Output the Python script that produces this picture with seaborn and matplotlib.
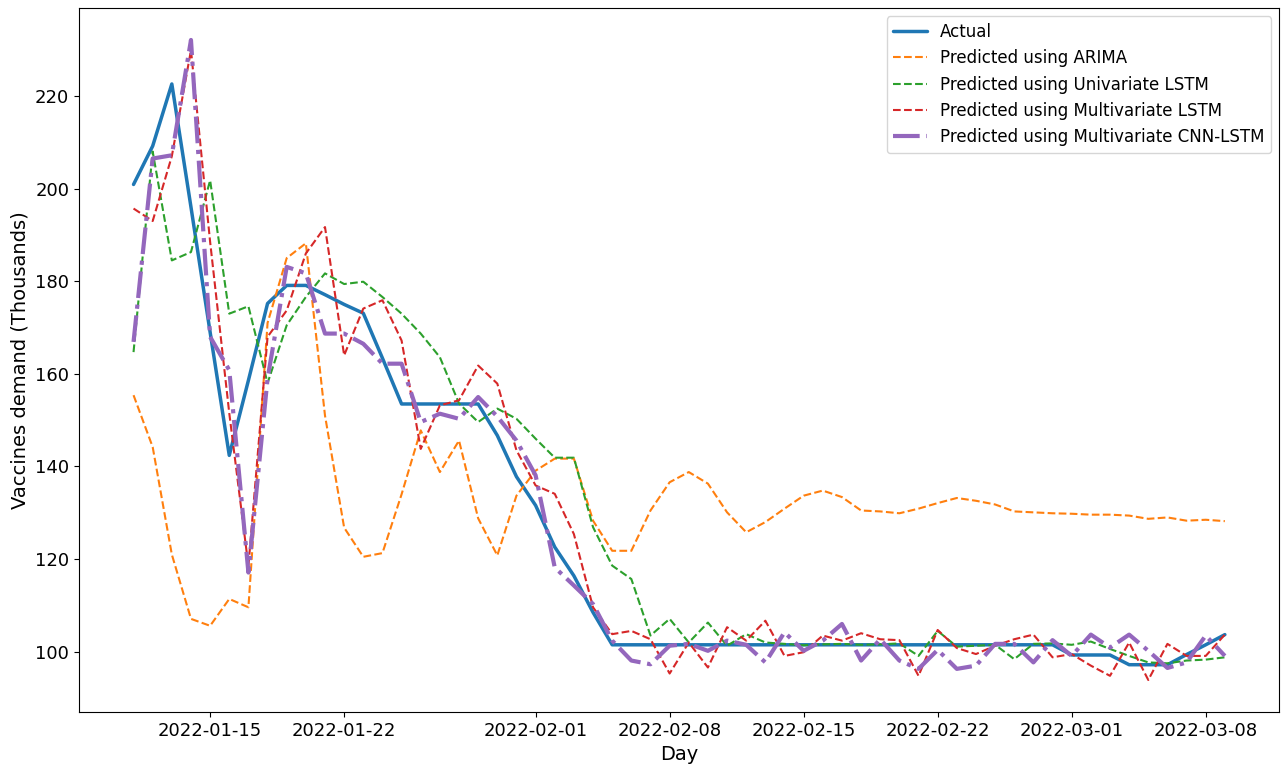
import numpy as np
import pandas as pd
import matplotlib
matplotlib.use("Agg")
import matplotlib.pyplot as plt
import matplotlib.dates as mdates
import seaborn as sns

dates = pd.date_range("2022-01-11", "2022-03-09", freq="D")

actual = [200.9, 209.2, 222.6, 196.0, 169.0, 142.4, 158.6, 175.2, 179.1, 179.1,
          177.1, 175.0, 173.1, 163.4, 153.5, 153.5, 153.5, 153.5, 153.5, 146.7,
          137.8, 131.6, 122.6, 116.4, 108.5, 101.5, 101.5, 101.5, 101.5, 101.5,
          101.5, 101.5, 101.5, 101.5, 101.5, 101.5, 101.5, 101.5, 101.5, 101.5,
          101.5, 101.5, 101.5, 101.5, 101.5, 101.5, 101.5, 101.5, 101.5, 99.3,
          99.3, 99.3, 97.2, 97.2, 97.2, 99.4, 101.5, 103.7]

arima = [155.4, 144.2, 121.0, 107.1, 105.6, 111.4, 109.6, 171.0, 185.0, 188.2,
         151.0, 126.8, 120.5, 121.3, 134.0, 147.8, 138.8, 145.6, 128.8, 120.8,
         133.7, 139.1, 141.7, 141.7, 128.3, 121.8, 121.8, 130.5, 136.6, 138.8,
         136.3, 130.1, 125.8, 128.0, 130.9, 133.7, 134.8, 133.4, 130.5, 130.3,
         129.9, 130.9, 132.1, 133.2, 132.6, 131.8, 130.3, 130.1, 129.9, 129.8,
         129.6, 129.6, 129.4, 128.7, 129.0, 128.3, 128.5, 128.2]

uni_lstm = [164.7, 208.0, 184.5, 186.3, 201.8, 173.0, 174.6, 158.0, 170.5, 176.6,
            181.7, 179.4, 179.9, 176.6, 173.0, 168.7, 163.6, 153.6, 149.6, 152.5,
            150.3, 146.0, 141.9, 141.9, 126.9, 118.6, 115.7, 103.5, 107.1, 102.0,
            106.3, 101.3, 103.8, 102.0, 101.7, 101.4, 101.6, 101.7, 101.5, 101.6,
            101.8, 99.1, 104.5, 101.1, 101.3, 101.5, 98.4, 101.7, 101.8, 101.5,
            102.2, 100.6, 99.1, 97.7, 97.5, 98.1, 98.3, 98.8]

multi_lstm = [195.7, 193.0, 207.0, 229.9, 188.5, 151.5, 118.5, 168.0, 173.7, 186.0,
              191.7, 164.0, 174.1, 175.9, 167.2, 143.8, 153.2, 154.3, 161.8, 157.9,
              143.5, 135.9, 134.1, 125.4, 109.6, 103.8, 104.5, 102.7, 95.3, 102.0,
              96.6, 105.3, 102.4, 106.7, 99.1, 99.9, 103.5, 102.4, 104.0, 102.7,
              102.5, 94.8, 104.7, 100.8, 99.5, 101.3, 102.7, 103.7, 98.8, 99.5,
              97.0, 94.8, 102.0, 93.9, 101.7, 99.1, 99.1, 103.7]

cnn_lstm = [166.9, 206.5, 207.2, 232.1, 168.0, 160.8, 117.1, 159.0, 183.1, 181.7,
            168.7, 168.7, 166.5, 162.2, 162.2, 149.6, 151.4, 150.3, 155.0, 150.8,
            145.6, 138.1, 118.2, 114.3, 110.3, 102.4, 98.1, 97.3, 101.3, 101.7,
            100.2, 102.4, 101.5, 97.7, 104.2, 100.2, 102.4, 106.0, 98.1, 102.7,
            98.1, 96.3, 100.4, 96.3, 97.0, 101.7, 101.7, 97.7, 102.5, 99.1,
            103.7, 100.9, 103.7, 100.2, 96.5, 97.7, 103.5, 99.1]

labels = ["Actual", "Predicted using ARIMA", "Predicted using Univariate LSTM",
          "Predicted using Multivariate LSTM", "Predicted using Multivariate CNN-LSTM"]

sns.set_style("ticks", {"axes.edgecolor": "black", "text.color": "black",
                        "axes.labelcolor": "black", "xtick.color": "black",
                        "ytick.color": "black"})
plt.rcParams['font.family'] = ['DejaVu Sans']

fig, ax = plt.subplots(figsize=(12.82, 7.66), dpi=100)
fig.subplots_adjust(left=0.0616, right=0.998, top=0.9896, bottom=0.0705)

sns.lineplot(x=dates, y=actual, ax=ax, color="#1f77b4", linewidth=2.5, label=labels[0])
sns.lineplot(x=dates, y=arima, ax=ax, color="#ff7f0e", linewidth=1.5, linestyle="--", label=labels[1])
sns.lineplot(x=dates, y=uni_lstm, ax=ax, color="#2ca02c", linewidth=1.5, linestyle="--", label=labels[2])
sns.lineplot(x=dates, y=multi_lstm, ax=ax, color="#d62728", linewidth=1.5, linestyle="--", label=labels[3])
sns.lineplot(x=dates, y=cnn_lstm, ax=ax, color="#9467bd", linewidth=3, linestyle="-.", label=labels[4])

ax.xaxis.set_major_locator(mdates.DayLocator(bymonthday=[1, 8, 15, 22]))
ax.xaxis.set_major_formatter(mdates.DateFormatter("%Y-%m-%d"))
ax.tick_params(axis="both", labelsize=13, colors="black")
ax.set_xlabel("Day", fontsize=14, color="black")
ax.set_ylabel("Vaccines demand (Thousands)", fontsize=14, color="black")
leg = ax.legend(loc="upper right", fontsize=12, frameon=True)
for t in leg.get_texts():
    t.set_color("black")
ax.margins(x=0.05, y=0.05)
for s in ax.spines.values():
    s.set_color("black")
    s.set_linewidth(0.8)

fig.savefig("out.png", dpi=100)
